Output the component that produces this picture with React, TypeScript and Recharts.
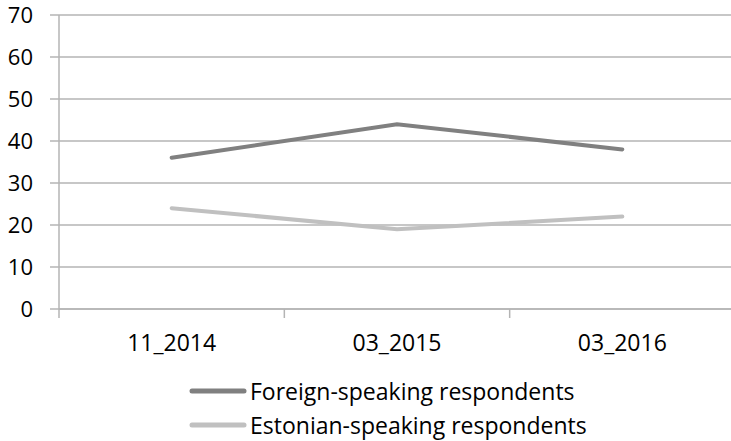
import { CartesianGrid, Legend, Line, LineChart, XAxis, YAxis } from "recharts";

const periods = ["11_2014", "03_2015", "03_2016"];
const foreignSpeaking = [36, 44, 38];
const estonianSpeaking = [24, 19, 22];
const yTicks = [0, 10, 20, 30, 40, 50, 60, 70];

const data = periods.map((period, i) => ({
  period,
  foreign: foreignSpeaking[i],
  estonian: estonianSpeaking[i],
}));

const FONT = "'Open Sans', sans-serif";
const GRID = "#b4b4b4";

const series = [
  { key: "foreign", name: "Foreign-speaking respondents", color: "#808080" },
  { key: "estonian", name: "Estonian-speaking respondents", color: "#c0c0c0" },
];

// category ticks sit on the band edges, labels in the middle
function PeriodTick(props: any) {
  const { x, y, payload, index } = props;
  const half = payload.offset ?? 0;
  const axisY = y - 26;
  return (
    <g>
      <line x1={x - half} y1={axisY} x2={x - half} y2={axisY + 9} stroke={GRID} strokeWidth={1.5} />
      {index === periods.length - 1 && (
        <line x1={x + half} y1={axisY} x2={x + half} y2={axisY + 9} stroke={GRID} strokeWidth={1.5} />
      )}
      <text x={x} y={y} dy="0.71em" textAnchor="middle" fill="#000" fontSize={23} fontFamily={FONT}>
        {payload.value}
      </text>
    </g>
  );
}

function LegendBox() {
  return (
    <div style={{ fontFamily: FONT, fontSize: 23, color: "#000", paddingLeft: 188 }}>
      {series.map((s) => (
        <div key={s.key} style={{ display: "flex", alignItems: "center", height: 34, lineHeight: "34px" }}>
          <svg width={62} height={10}>
            <line x1={4} y1={5} x2={56} y2={5} stroke={s.color} strokeWidth={5} strokeLinecap="round" />
          </svg>
          <span>{s.name}</span>
        </div>
      ))}
    </div>
  );
}

export default function App() {
  return (
    <div style={{ position: "fixed", left: 0, top: 0, width: 731, height: 441, overflow: "hidden", background: "#fff" }}>
      <LineChart width={740} height={441} data={data} margin={{ top: 15, right: 5, bottom: 92, left: 0 }}>
        <CartesianGrid vertical={false} stroke={GRID} strokeWidth={1.5} />
        <XAxis
          dataKey="period"
          scale="band"
          height={40}
          stroke={GRID}
          strokeWidth={1.5}
          tickLine={false}
          tickSize={0}
          tickMargin={26}
          interval={0}
          tick={<PeriodTick />}
        />
        <YAxis
          width={59}
          domain={[0, 70]}
          ticks={yTicks}
          interval={0}
          stroke={GRID}
          strokeWidth={1.5}
          tickSize={9}
          tickMargin={17}
          tick={{ fill: "#000", fontSize: 22, fontFamily: FONT }}
        />
        <Legend
          layout="horizontal"
          verticalAlign="middle"
          align="center"
          content={<LegendBox />}
          wrapperStyle={{ top: 374, left: 0, width: 740, height: 68 }}
        />
        {series.map((s) => (
          <Line
            key={s.key}
            dataKey={s.key}
            name={s.name}
            stroke={s.color}
            strokeWidth={4}
            strokeLinecap="round"
            dot={false}
            activeDot={false}
            type="linear"
            isAnimationActive={false}
          />
        ))}
      </LineChart>
    </div>
  );
}
